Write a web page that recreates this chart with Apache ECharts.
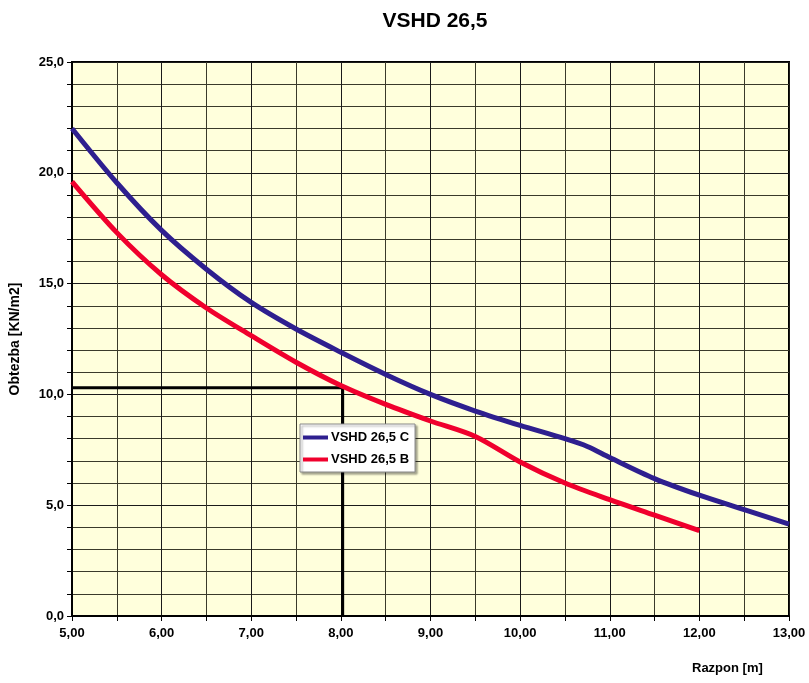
<!DOCTYPE html>
<html>
<head>
<meta charset="utf-8">
<script src="https://cdn.jsdelivr.net/npm/echarts@6/dist/echarts.min.js"></script>
<style>html,body{margin:0;padding:0;background:#fff}#c{width:809px;height:683px}</style>
</head>
<body>
<div id="c"></div>
<script>
var titleText = 'VSHD 26,5';
var xName = 'Razpon [m]';
var yName = 'Obtezba [KN/m2]';
var seriesNames = ['VSHD 26,5 C', 'VSHD 26,5 B'];

var blueX = [5, 5.5, 6, 6.5, 7, 7.5, 8, 8.5, 9, 9.5, 10, 10.5, 10.75, 11, 11.5, 12, 12.5, 13];
var blueY = [22.0, 19.55, 17.4, 15.65, 14.15, 12.95, 11.9, 10.9, 10.0, 9.25, 8.6, 8.0, 7.65, 7.15, 6.2, 5.45, 4.8, 4.15];

var redX = [5, 5.5, 6, 6.5, 7, 7.5, 8, 8.5, 9, 9.5, 10, 10.5, 11, 11.5, 12];
var redY = [19.6, 17.3, 15.4, 13.9, 12.65, 11.45, 10.4, 9.55, 8.8, 8.1, 6.95, 6.0, 5.25, 4.55, 3.85];

var refX = [5, 8.02, 8.02];
var refY = [10.3, 10.3, 0];

function zip(a, b) { return a.map(function (v, i) { return [v, b[i]]; }); }

var FONT = '"Liberation Sans", Arial, sans-serif';
var chart = echarts.init(document.getElementById('c'), null, { renderer: 'canvas' });
chart.setOption({
  animation: false,
  backgroundColor: '#ffffff',
  title: {
    text: titleText, left: 430, top: 6, textAlign: 'center',
    textStyle: { fontFamily: FONT, fontWeight: 'bold', fontSize: 21, color: '#000' }
  },
  grid: {
    left: 71, right: 20, top: 62, bottom: 67, show: true,
    backgroundColor: '#FFFFDC', borderColor: '#000', borderWidth: 2
  },
  legend: {
    data: seriesNames, orient: 'vertical', left: 300, top: 424,
    backgroundColor: '#ffffff', borderColor: '#888', borderWidth: 1,
    padding: [7, 6, 6, 3], itemGap: 9, itemWidth: 25, itemHeight: 4, icon: 'rect',
    shadowColor: 'rgba(0,0,0,0.35)', shadowOffsetX: 2, shadowOffsetY: 2, shadowBlur: 2,
    textStyle: { fontFamily: FONT, fontWeight: 'bold', fontSize: 13, color: '#000', padding: [0, 0, 0, -2] }
  },
  xAxis: {
    type: 'value', min: 5, max: 13, interval: 1,
    axisLine: { show: true, lineStyle: { color: '#000', width: 2 } },
    axisTick: { show: true, length: 5, lineStyle: { color: '#000', width: 1 } },
    minorTick: { show: true, splitNumber: 2, length: 5, lineStyle: { color: '#000', width: 1 } },
    splitLine: { show: true, lineStyle: { color: '#1a1a1a', width: 1 } },
    minorSplitLine: { show: true, lineStyle: { color: '#3a3a2a', width: 1 } },
    axisLabel: { margin: 11, fontFamily: FONT, fontWeight: 'bold', fontSize: 13, color: '#000',
      formatter: function (v) { return v.toFixed(2).replace('.', ','); } }
  },
  yAxis: {
    type: 'value', min: 0, max: 25, interval: 5,
    name: yName, nameLocation: 'middle', nameGap: 50,
    nameTextStyle: { fontFamily: FONT, fontWeight: 'bold', fontSize: 14, color: '#000' },
    axisLine: { show: true, lineStyle: { color: '#000', width: 2 } },
    axisTick: { show: true, length: 5, lineStyle: { color: '#000', width: 1 } },
    minorTick: { show: true, splitNumber: 5, length: 5, lineStyle: { color: '#000', width: 1 } },
    splitLine: { show: true, lineStyle: { color: '#1a1a1a', width: 1 } },
    minorSplitLine: { show: true, lineStyle: { color: '#3a3a2a', width: 1 } },
    axisLabel: { margin: 8, fontFamily: FONT, fontWeight: 'bold', fontSize: 13, color: '#000',
      formatter: function (v) { return v.toFixed(1).replace('.', ','); } }
  },
  graphic: [{
    type: 'text', left: 692, top: 662,
    style: { text: xName, fontFamily: FONT, fontWeight: 'bold', fontSize: 13, fill: '#000' }
  }],
  series: [
    {
      name: 'ref', type: 'line', data: zip(refX, refY), showSymbol: false, symbol: 'none',
      lineStyle: { color: '#000', width: 3 }, z: 1, silent: true
    },
    {
      name: seriesNames[0], type: 'line', data: zip(blueX, blueY), smooth: 0.3, symbol: 'none',
      itemStyle: { color: '#2E1F8F' }, lineStyle: { color: '#2E1F8F', width: 5 }, z: 3
    },
    {
      name: seriesNames[1], type: 'line', data: zip(redX, redY), smooth: 0.3, symbol: 'none',
      itemStyle: { color: '#F0002D' }, lineStyle: { color: '#F0002D', width: 5 }, z: 2
    }
  ]
});
</script>
</body>
</html>
